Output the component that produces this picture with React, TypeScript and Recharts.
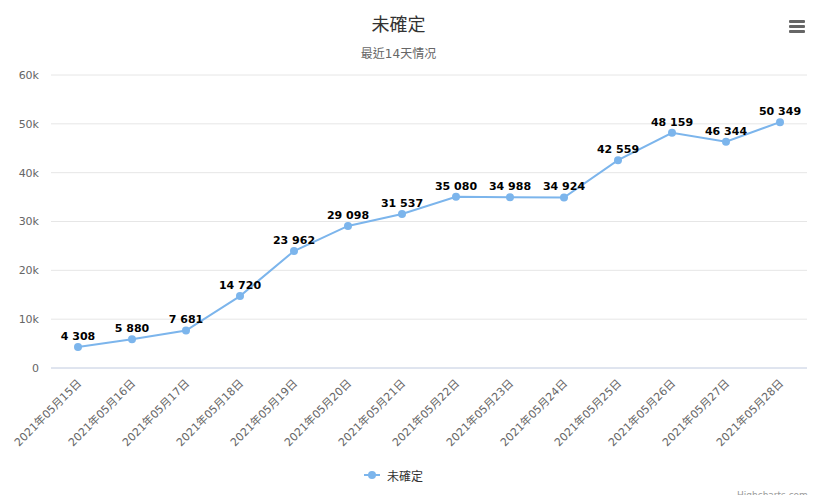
import { LineChart, Line, XAxis, YAxis, CartesianGrid, Legend, LabelList } from "recharts";

const dates = [
  "2021年05月15日", "2021年05月16日", "2021年05月17日", "2021年05月18日",
  "2021年05月19日", "2021年05月20日", "2021年05月21日", "2021年05月22日",
  "2021年05月23日", "2021年05月24日", "2021年05月25日", "2021年05月26日",
  "2021年05月27日", "2021年05月28日",
];

const unconfirmed = [
  4308, 5880, 7681, 14720, 23962, 29098, 31537,
  35080, 34988, 34924, 42559, 48159, 46344, 50349,
];

const yTicks = [0, 10000, 20000, 30000, 40000, 50000, 60000];

const SERIES_NAME = "未確定";
const COLOR = "#7cb5ec";
const FONT = '"DejaVu Sans", "Noto Sans CJK TC", sans-serif';

const data = dates.map((date, i) => ({ date, value: unconfirmed[i] }));

// 4308 -> "4 308"
const fmt = (v: number) => String(v).replace(/\B(?=(\d{3})+(?!\d))/g, " ");

function DateTick(props: any) {
  const { x, y, payload } = props;
  const ax = x + 4;
  const ay = y + 8;
  return (
    <text
      x={ax}
      y={ay}
      transform={`rotate(-45, ${ax}, ${ay})`}
      textAnchor="end"
      fontSize={11}
      fill="#666"
      fontFamily={FONT}
    >
      {payload.value}
    </text>
  );
}

function LegendBox() {
  return (
    <div style={{ display: "flex", justifyContent: "center", alignItems: "center", height: 20, fontFamily: FONT, fontSize: 12, color: "#333", paddingRight: 20 }}>
      <svg width={16} height={12} style={{ marginRight: 7 }}>
        <line x1={0} y1={6} x2={16} y2={6} stroke={COLOR} strokeWidth={2} />
        <circle cx={8} cy={6} r={4} fill={COLOR} />
      </svg>
      <span>{SERIES_NAME}</span>
    </div>
  );
}

export default function App() {
  return (
    <div style={{ position: "relative", width: 817, height: 495, overflow: "hidden", background: "#fff", fontFamily: FONT }}>
      <style>{"body{margin:0}"}</style>
      <div style={{ position: "absolute", top: 10, left: 0, width: 797, textAlign: "center", fontSize: 18, color: "#333" }}>
        {SERIES_NAME}
      </div>
      <div style={{ position: "absolute", top: 44, left: 0, width: 797, textAlign: "center", fontSize: 12, color: "#666" }}>
        最近14天情况
      </div>
      {[20, 25, 30].map((t) => (
        <div key={t} style={{ position: "absolute", top: t, left: 789, width: 16, height: 3, background: "#666", borderRadius: 1 }} />
      ))}
      <div style={{ position: "absolute", top: 490, left: 737, fontSize: 9, color: "#999" }}>Highcharts.com</div>
      <LineChart width={817} height={495} data={data} margin={{ top: 75, right: 10, left: 0, bottom: 0 }}>
        <CartesianGrid vertical={false} stroke="#e6e6e6" />
        <XAxis
          dataKey="date"
          interval={0}
          tick={<DateTick />}
          tickLine={false}
          axisLine={{ stroke: "#ccd6eb" }}
          height={97}
          padding={{ left: 27, right: 27 }}
        />
        <YAxis
          domain={[0, 60000]}
          ticks={yTicks}
          tickFormatter={(v: number) => (v === 0 ? "0" : `${v / 1000}k`)}
          axisLine={false}
          tickLine={false}
          width={51}
          tickMargin={6}
          tick={{ fontSize: 11, fill: "#666", fontFamily: FONT }}
          label={{ value: "人数", angle: -90, position: "insideLeft", offset: -10, fill: "#666", fontSize: 12 }}
        />
        <Legend verticalAlign="bottom" height={30} content={<LegendBox />} />
        <Line
          type="linear"
          dataKey="value"
          name={SERIES_NAME}
          stroke={COLOR}
          strokeWidth={2}
          dot={{ r: 4, fill: COLOR, stroke: COLOR, strokeWidth: 0 }}
          isAnimationActive={false}
        >
          <LabelList dataKey="value" position="top" offset={7} formatter={(v: any) => fmt(Number(v))} fill="#000" fontSize={11} fontWeight="bold" fontFamily={FONT} />
        </Line>
      </LineChart>
    </div>
  );
}
